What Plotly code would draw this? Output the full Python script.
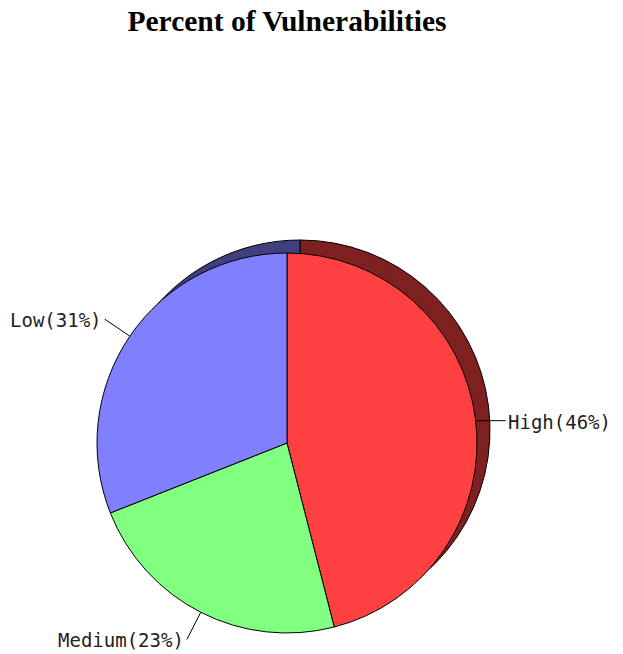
import math
import plotly.graph_objects as go

# Vulnerability breakdown
categories = ["High", "Medium", "Low"]
percents = [46, 23, 31]
face_colors = ["#FF4040", "#80FF80", "#8080FF"]
shadow_colors = ["#7F2020", "#408040", "#404080"]

W, H = 623, 654
cx, cy, r = 287, 443, 190      # pie centre / radius in pixels
shadow_dx, shadow_dy = 13, -13  # shadow offset in pixels (right, up)


def dom(x0, y0, size):
    """Pixel box (top-left, square size) -> paper domain."""
    return dict(x=[x0 / W, (x0 + size) / W],
                y=[1 - (y0 + size) / H, 1 - y0 / H])


common = dict(
    labels=categories,
    values=percents,
    sort=False,
    direction="clockwise",
    rotation=0,
    textinfo="none",
    hoverinfo="label+percent",
    showlegend=False,
)

fig = go.Figure()
fig.add_trace(go.Pie(
    **common,
    marker=dict(colors=shadow_colors, line=dict(color="black", width=1)),
    domain=dom(cx - r + shadow_dx, cy - r + shadow_dy, 2 * r),
))
fig.add_trace(go.Pie(
    **common,
    marker=dict(colors=face_colors, line=dict(color="black", width=1)),
    domain=dom(cx - r, cy - r, 2 * r),
))

# Outside labels with leader lines, placed at each slice's mid-angle
total = sum(percents)
acc = 0
shapes, annotations = [], []
for name, val in zip(categories, percents):
    mid = (acc + val / 2) / total * 2 * math.pi
    acc += val
    sx, sy = math.sin(mid), -math.cos(mid)
    x0, y0 = cx + 1.0 * r * sx, cy + 1.0 * r * sy
    x1, y1 = cx + 1.16 * r * sx, cy + 1.16 * r * sy
    if abs(sx) > 0.97:          # near-horizontal labels get a flat leader
        y0 = y1 = y0 + 1.5
    shapes.append(dict(type="line", xref="paper", yref="paper",
                       x0=x0 / W, y0=1 - y0 / H, x1=x1 / W, y1=1 - y1 / H,
                       line=dict(color="black", width=1)))
    right = sx >= 0
    annotations.append(dict(
        x=(x1 + (0 if right else -1)) / W, y=1 - (y1 + 1) / H,
        xref="paper", yref="paper",
        text=f"{name}({round(val / total * 100)}%)",
        showarrow=False,
        xanchor="left" if right else "right", yanchor="middle",
        font=dict(family="DejaVu Sans Mono", size=19, color="#222222"),
    ))

fig.update_layout(
    width=W, height=H,
    margin=dict(l=0, r=0, t=0, b=0),
    paper_bgcolor="white",
    plot_bgcolor="white",
    title=dict(
        text="<b>Percent of Vulnerabilities</b>",
        x=cx / W, xanchor="center",
        y=1 - 21 / H, yanchor="middle",
        font=dict(family="Liberation Serif", size=29.5, color="black"),
    ),
    shapes=shapes,
    annotations=annotations,
)

fig.write_html("out.html")
